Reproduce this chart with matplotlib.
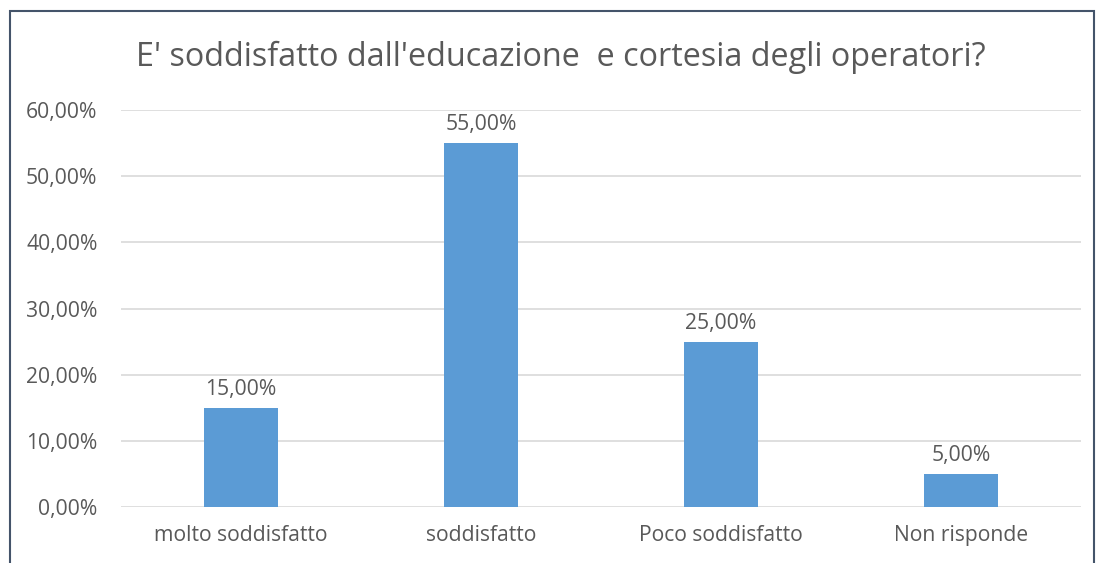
import matplotlib.pyplot as plt
from matplotlib.patches import Rectangle
from matplotlib.ticker import FuncFormatter

categories = ['molto soddisfatto', 'soddisfatto', 'Poco soddisfatto', 'Non risponde']
values = [15.0, 55.0, 25.0, 5.0]
title = "E' soddisfatto dall'educazione  e cortesia degli operatori?"

plt.rcParams['font.family'] = ['Open Sans', 'DejaVu Sans']
txt = '#595959'

fig = plt.figure(figsize=(10.97, 5.63), dpi=100)
ax = fig.add_axes([121/1097, 1 - 507/563, 960/1097, (507 - 110)/563])

x = range(len(categories))
ax.bar(x, values, width=0.31, color='#5B9BD5', zorder=3)
for xi, v in zip(x, values):
    ax.text(xi, v + 1.2, f'{v:.2f}%'.replace('.', ','), ha='center', va='bottom',
            fontsize=15.2, color=txt)

ax.set_xlim(-0.5, 3.5)
ax.set_ylim(0, 60)
ax.set_yticks(range(0, 61, 10))
ax.yaxis.set_major_formatter(FuncFormatter(lambda v, p: f'{v:.2f}%'.replace('.', ',')))
ax.set_xticks(list(x))
ax.set_xticklabels(categories)
ax.tick_params(axis='both', length=0, labelsize=15.2, colors=txt)
ax.tick_params(axis='y', pad=17)
ax.tick_params(axis='x', pad=13)
ax.grid(axis='y', color='#D9D9D9', linewidth=1.2, zorder=0)
for s in ax.spines.values():
    s.set_visible(False)

fig.text(561/1097, 1 - 57/563, title, ha='center', va='center', fontsize=23.3, color=txt)

fig.patches.append(Rectangle((10/1097, -0.05), 1084/1097, 1 - 11/563 + 0.05,
                             transform=fig.transFigure, fill=False,
                             edgecolor='#44546A', linewidth=1.5))

fig.savefig('out.png', dpi=100)
